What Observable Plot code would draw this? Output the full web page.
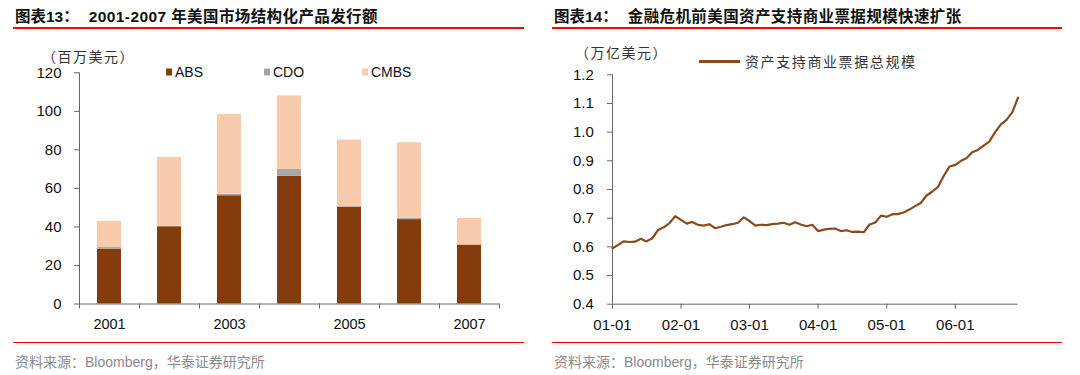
<!DOCTYPE html>
<html>
<head>
<meta charset="utf-8">
<script src="https://cdn.jsdelivr.net/npm/d3@7"></script>
<script src="https://cdn.jsdelivr.net/npm/@observablehq/plot@0.6"></script>
<style>
html,body{margin:0;padding:0;background:#fff;}
#root{position:relative;width:1080px;height:375px;overflow:hidden;font-family:"Liberation Sans","Noto Sans CJK SC",sans-serif;}
.t{position:absolute;white-space:nowrap;transform:translateY(-50%);line-height:1.2;}
.title{font-weight:bold;font-size:15.5px;color:#111;}
.title .cn{letter-spacing:0.4px;}
.unit{font-size:14px;color:#333;font-family:"Noto Sans CJK SC",sans-serif;}
.foot{font-size:14px;color:#8a8a8a;}
.leg{font-size:14px;color:#111;font-family:"Liberation Sans Narrow","Arial Narrow","Liberation Sans",sans-serif;}
.sq{position:absolute;width:6px;height:7px;transform:translateY(-50%);}
.red{position:absolute;background:#f00;}
.plot{position:absolute;}
</style>
</head>
<body>
<div id="root"></div>
<script>
// ---- Left chart data (百万美元) ----
const years = ["2001","2002","2003","2004","2005","2006","2007"];
const seriesNames = ["ABS","CDO","CMBS"];
const seriesColors = ["#843C0C","#A6A6A6","#F8CBAD"];
const absValues  = [28.5, 40.1, 56.2, 66.3, 50.3, 43.8, 30.6];
const cdoValues  = [0.8, 0.3, 0.8, 3.5, 0.2, 0.7, 0.0];
const cmbsValues = [13.6, 35.7, 41.4, 38.2, 34.6, 39.2, 13.9];
const leftYTicks = [0, 20, 40, 60, 80, 100, 120];
const leftXLabels = ["2001","2003","2005","2007"];

// ---- Right chart data (万亿美元), monthly from 2001-01 ----
const startMonth = "2001-01-01";
const abcpValues = [
  0.595,0.607,0.619,0.617,0.618,0.628,0.619,0.630,0.659,0.668,0.683,0.707,
  0.694,0.681,0.687,0.677,0.674,0.679,0.665,0.670,0.676,0.679,0.684,0.703,
  0.690,0.674,0.677,0.676,0.679,0.681,0.684,0.677,0.686,0.678,0.672,0.677,
  0.655,0.660,0.663,0.664,0.655,0.658,0.652,0.653,0.651,0.678,0.685,0.709,
  0.705,0.714,0.714,0.720,0.730,0.742,0.753,0.779,0.793,0.809,0.848,0.880,
  0.886,0.900,0.909,0.930,0.938,0.953,0.967,1.000,1.027,1.043,1.070,1.120
];
const rightYTicks = [0.4,0.5,0.6,0.7,0.8,0.9,1.0,1.1,1.2];
const rightXTickYears = ["2001","2002","2003","2004","2005","2006"];

const root = document.getElementById("root");
function add(html){ root.insertAdjacentHTML("beforeend", html); }

// Titles & decoration
add(`<div class="t title" style="left:15px;top:17px">图表13：<span style="display:inline-block;width:10px"></span><span class="cn">2001-2007 年美国市场结构化产品发行额</span></div>`);
add(`<div class="t title" style="left:554px;top:17px">图表14：<span style="display:inline-block;width:10px"></span><span class="cn">金融危机前美国资产支持商业票据规模快速扩张</span></div>`);
add(`<div class="red" style="left:13px;top:26.5px;width:511px;height:2.5px"></div>`);
add(`<div class="red" style="left:552px;top:26.5px;width:510px;height:2.5px"></div>`);
add(`<div class="red" style="left:13px;top:342px;width:511px;height:1.2px"></div>`);
add(`<div class="red" style="left:552px;top:342px;width:510px;height:1.2px"></div>`);
add(`<div class="t foot" style="left:15px;top:362px">资料来源：Bloomberg，华泰证券研究所</div>`);
add(`<div class="t foot" style="left:554px;top:362px">资料来源：Bloomberg，华泰证券研究所</div>`);
add(`<div class="t unit" style="left:42px;top:56px;letter-spacing:1.5px">（百万美元）</div>`);
add(`<div class="t unit" style="left:575px;top:52px;letter-spacing:1.5px">（万亿美元）</div>`);

// Left legend
const legX = [166, 264, 362];
seriesNames.forEach((s,i)=>{
  add(`<div class="sq" style="left:${legX[i]}px;top:72px;background:${seriesColors[i]}"></div>`);
  add(`<div class="t leg" style="left:${legX[i]+9}px;top:72px">${s}</div>`);
});
// Right legend
add(`<div style="position:absolute;left:699px;top:60px;width:41px;height:3px;background:#8B4A1E"></div>`);
add(`<div class="t unit" style="left:745px;top:61px;letter-spacing:1.6px;color:#333">资产支持商业票据总规模</div>`);

// ---- Left plot ----
const stackData = [];
years.forEach((y,i)=>{
  stackData.push({year:y, series:"ABS", value:absValues[i]});
  stackData.push({year:y, series:"CDO", value:cdoValues[i]});
  stackData.push({year:y, series:"CMBS", value:cmbsValues[i]});
});
const axisColor = "#666";
const left = Plot.plot({
  width:540, height:280,
  marginTop:12.3, marginBottom:36.5, marginLeft:79, marginRight:41,
  style:{fontFamily:"Liberation Sans, sans-serif", fontSize:"15px", color:"#111", background:"transparent", overflow:"visible"},
  x:{type:"band", domain:years, paddingInner:0.6, paddingOuter:0.3, axis:null},
  y:{domain:[0,120], axis:null},
  color:{domain:seriesNames, range:seriesColors},
  marks:[
    Plot.barY(stackData,{x:"year", y:"value", fill:"series"}),
    Plot.frame({anchor:"left", stroke:axisColor}),
    Plot.ruleY([0],{stroke:axisColor}),
    Plot.ruleX(years,{x:d=>d, y1:0, y2:0, insetBottom:-5, dx:-30, stroke:axisColor}),
    Plot.ruleX([years[years.length-1]],{x:d=>d, y1:0, y2:0, insetBottom:-5, dx:30, stroke:axisColor}),
    Plot.axisY({ticks:leftYTicks, tickSize:5, tickPadding:13, stroke:axisColor, color:"#111", fontSize:15, label:null}),
    Plot.axisX({ticks:leftXLabels, tickSize:0, tickPadding:14.5, color:"#111", fontSize:14.5, label:null})
  ]
});
left.classList.add("plot");
left.style.left = "0px"; left.style.top = "60px";
root.appendChild(left);

// ---- Right plot ----
const months = d3.utcMonth.range(new Date(startMonth), d3.utcMonth.offset(new Date(startMonth), abcpValues.length));
const lineData = abcpValues.map((v,i)=>({date:months[i], value:v}));
const xTicks = rightXTickYears.map(y=>new Date(y+"-01-01"));
const right = Plot.plot({
  width:540, height:280,
  marginTop:14.3, marginBottom:36.3, marginLeft:72, marginRight:62.5,
  style:{fontFamily:"Liberation Sans, sans-serif", fontSize:"15px", color:"#111", background:"transparent", overflow:"visible"},
  x:{type:"utc", domain:[months[0], months[months.length-1]], axis:null},
  y:{domain:[0.4,1.2], axis:null},
  marks:[
    Plot.ruleX([months[0]],{stroke:axisColor}),
    Plot.ruleY([0.4],{stroke:axisColor}),
    Plot.axisY({ticks:rightYTicks, tickFormat:d3.format(".1f"), tickSize:5, tickPadding:13.7, stroke:axisColor, color:"#111", fontSize:15, label:null}),
    Plot.axisX({ticks:xTicks, tickFormat:d3.utcFormat("%y-%m"), tickSize:5, tickPadding:10, stroke:axisColor, color:"#111", fontSize:15, label:null}),
    Plot.lineY(lineData,{x:"date", y:"value", stroke:"#8B4A1E", strokeWidth:2.2})
  ]
});
right.classList.add("plot");
right.style.left = "540px"; right.style.top = "60px";
root.appendChild(right);
</script>
</body>
</html>
